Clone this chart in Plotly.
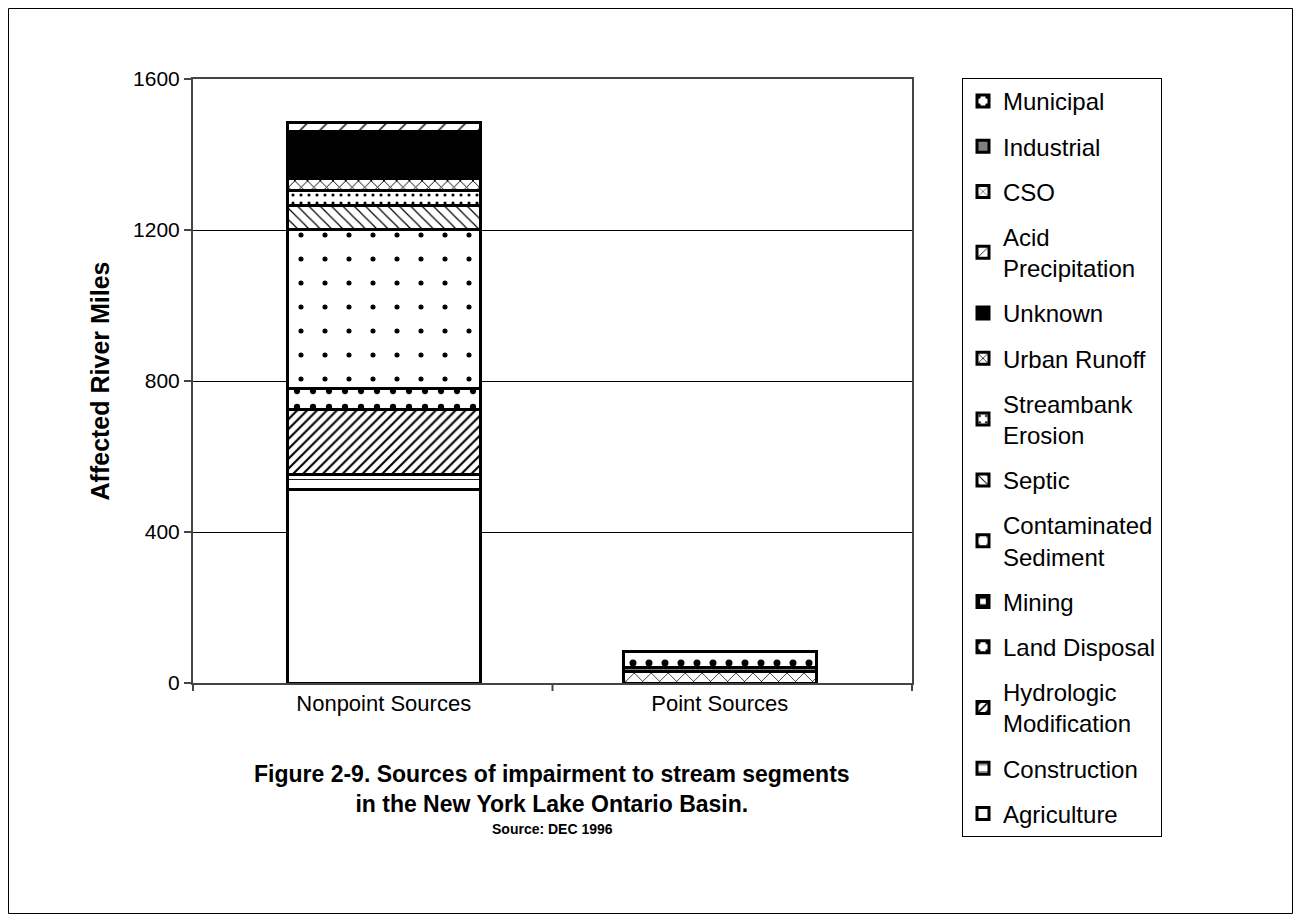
import plotly.graph_objects as go

categories = ["Nonpoint Sources", "Point Sources"]

series_names = ["Agriculture", "Construction", "Hydrologic<br>Modification", "Land Disposal",
                "Mining", "Contaminated<br>Sediment", "Septic", "Streambank<br>Erosion",
                "Urban Runoff", "Unknown", "Acid<br>Precipitation", "CSO", "Industrial", "Municipal"]

agriculture = [512, None]
construction = [41, None]
hydrologic = [171, None]
land_disposal = [57, None]
mining = [None, None]
contaminated = [420, None]
septic = [64, None]
streambank = [39, None]
urban_runoff = [32, None]
unknown = [125, None]
acid_precip = [25, None]
cso = [None, 31]
industrial = [None, 10]
municipal = [None, 43]

values = [agriculture, construction, hydrologic, land_disposal, mining, contaminated, septic,
          streambank, urban_runoff, unknown, acid_precip, cso, industrial, municipal]

y_ticks = [0, 400, 800, 1200, 1600]

# style per series: (bg, fg, shape, size, solidity)
styles = [
    ("white", "black", "", 8, 0.2),
    ("white", "black", "-", 9, 0.1),
    ("white", "black", "/", 7, 0.3),
    ("white", "black", ".", 16, 0.12),
    ("white", "black", "+", 10, 0.5),
    ("white", "black", ".", 24, 0.035),
    ("white", "black", "\\", 8, 0.15),
    ("white", "black", ".", 8, 0.12),
    ("white", "black", "x", 9, 0.2),
    ("black", "black", "", 8, 0.2),
    ("white", "black", "/", 14, 0.1),
    ("white", "black", "x", 12, 0.12),
    ("#808080", "black", "", 8, 0.2),
    ("white", "black", ".", 16, 0.15),
]

FONT = "Liberation Sans, Arial, sans-serif"

fig = go.Figure()
n = len(series_names)
for i, (name, vals, (bg, fg, shp, sz, sol)) in enumerate(zip(series_names, values, styles)):
    fig.add_trace(go.Bar(
        x=categories, y=vals, name=name, width=0.574,
        legendgroup=f"g{i}", legendrank=100 + (n - i),
        marker=dict(color=bg, line=dict(color="black", width=3),
                    pattern=dict(shape=shp, fgcolor=fg, bgcolor=bg, size=sz,
                                 solidity=sol, fillmode="overlay", fgopacity=1)),
    ))

# page has an 8px body margin; work in figure pixels
W, H = 1285, 906
PL, PR, PT, PB = 185, 904, 71, 675   # plot area edges in figure px
L, R, T, B = PL, W - PR, PT, H - PB
pw, ph = PR - PL, PB - PT

def px_x(x):
    return (x - PL) / pw

def px_y(y):
    return (PB - y) / ph

fig.update_layout(
    width=W, height=H, barmode="stack",
    margin=dict(l=L, r=R, t=T, b=B, pad=0),
    paper_bgcolor="white", plot_bgcolor="white",
    font=dict(family=FONT, size=21, color="black"),
    showlegend=True,
    legend=dict(
        traceorder="grouped", x=px_x(954), y=px_y(70),
        xanchor="left", yanchor="top", tracegroupgap=11,
        bordercolor="black", borderwidth=1, bgcolor="white",
        font=dict(family=FONT, size=24, color="black"),
        itemwidth=30, maxheight=860,
    ),
    xaxis=dict(
        type="category", range=[-0.5676, 1.5723], showgrid=False,
        showline=True, linecolor="#444", linewidth=2, mirror=True,
        ticks="", tickfont=dict(family=FONT, size=22),
    ),
    yaxis=dict(
        range=[0, 1600], tickvals=y_ticks, ticktext=[str(v) for v in y_ticks],
        showgrid=True, gridcolor="black", gridwidth=1,
        showline=True, linecolor="#444", linewidth=2, mirror=True,
        ticks="outside", ticklen=7, tickcolor="#444", tickwidth=2,
        tickfont=dict(family=FONT, size=21),
        title=dict(text="<b>Affected River Miles</b>", font=dict(family=FONT, size=25), standoff=16),
        zeroline=False,
    ),
)

# x tick marks at category boundaries
for xd in [0, 0.5, 1]:
    fig.add_shape(type="line", xref="x domain", yref="y domain",
                  x0=xd, x1=xd, y0=0, y1=-8 / ph, line=dict(color="#444", width=2))

# outer frame
fig.add_shape(type="rect", xref="paper", yref="paper",
              x0=px_x(0.5), x1=px_x(W - 0.5), y0=px_y(H - 0.5), y1=px_y(0.5),
              line=dict(color="black", width=1), layer="below")

# caption
fig.add_annotation(xref="paper", yref="paper", x=px_x(544), y=px_y(781),
                   text="<b>Figure 2-9. Sources of impairment to stream segments<br>in the New York Lake Ontario Basin.</b>",
                   showarrow=False, font=dict(family=FONT, size=23), align="center",
                   xanchor="center", yanchor="middle")
fig.add_annotation(xref="paper", yref="paper", x=px_x(544), y=px_y(821),
                   text="<b>Source: DEC 1996</b>", showarrow=False,
                   font=dict(family=FONT, size=14), xanchor="center", yanchor="middle")

fig.write_html("out.html")
